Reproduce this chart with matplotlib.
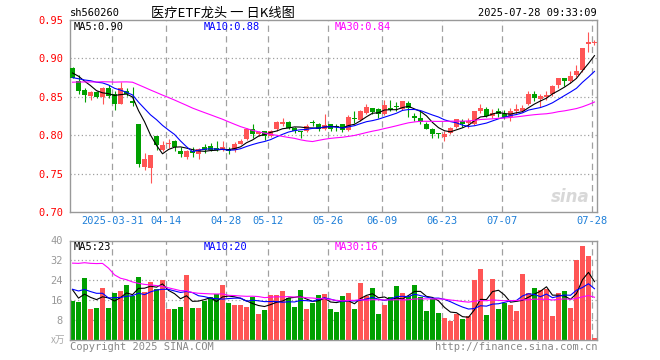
import matplotlib
matplotlib.use('Agg')
import matplotlib.pyplot as plt
import numpy as np
import pandas as pd

# ---------------- data ----------------
dates = ["2025-03-31", "04-14", "04-28", "05-12", "05-26", "06-09", "06-23", "07-07", "07-28"]
date_idx = [7, 16, 26, 33, 43, 52, 62, 72, 87]

open_ = [0.887, 0.870, 0.859, 0.851, 0.856, 0.850, 0.861, 0.854, 0.841, 0.858,
         0.845, 0.815, 0.759, 0.757, 0.799, 0.781, 0.788, 0.793, 0.780, 0.771,
         0.780, 0.775, 0.784, 0.786, 0.783, 0.781, 0.782, 0.781, 0.789, 0.795,
         0.808, 0.801, 0.805, 0.799, 0.808, 0.815, 0.817, 0.809, 0.805, 0.805,
         0.817, 0.815, 0.808, 0.814, 0.812, 0.814, 0.807, 0.822, 0.820, 0.829,
         0.835, 0.834, 0.827, 0.836, 0.838, 0.834, 0.842, 0.825, 0.822, 0.814,
         0.808, 0.802, 0.798, 0.803, 0.811, 0.819, 0.816, 0.814, 0.832, 0.834,
         0.825, 0.831, 0.828, 0.824, 0.831, 0.832, 0.840, 0.854, 0.847, 0.850,
         0.853, 0.865, 0.875, 0.871, 0.879, 0.885, 0.919, 0.920]
high = [0.889, 0.878, 0.861, 0.857, 0.857, 0.863, 0.866, 0.857, 0.869, 0.861,
        0.863, 0.815, 0.777, 0.774, 0.799, 0.793, 0.795, 0.794, 0.785, 0.781,
        0.784, 0.783, 0.789, 0.790, 0.792, 0.792, 0.785, 0.791, 0.795, 0.810,
        0.814, 0.805, 0.806, 0.807, 0.819, 0.822, 0.818, 0.811, 0.805, 0.814,
        0.820, 0.816, 0.827, 0.815, 0.814, 0.815, 0.826, 0.831, 0.833, 0.840,
        0.836, 0.835, 0.846, 0.846, 0.843, 0.844, 0.844, 0.829, 0.833, 0.817,
        0.810, 0.803, 0.805, 0.811, 0.821, 0.821, 0.822, 0.831, 0.840, 0.837,
        0.834, 0.835, 0.833, 0.835, 0.840, 0.839, 0.857, 0.857, 0.854, 0.857,
        0.866, 0.875, 0.875, 0.884, 0.892, 0.914, 0.935, 0.924]
low = [0.874, 0.854, 0.843, 0.846, 0.848, 0.840, 0.849, 0.833, 0.840, 0.851,
       0.838, 0.758, 0.755, 0.738, 0.781, 0.779, 0.783, 0.780, 0.771, 0.769,
       0.772, 0.769, 0.777, 0.779, 0.779, 0.779, 0.775, 0.778, 0.788, 0.794,
       0.797, 0.799, 0.794, 0.798, 0.806, 0.812, 0.808, 0.803, 0.797, 0.804,
       0.812, 0.806, 0.807, 0.805, 0.805, 0.804, 0.805, 0.816, 0.819, 0.828,
       0.828, 0.823, 0.826, 0.831, 0.832, 0.833, 0.824, 0.818, 0.814, 0.808,
       0.797, 0.797, 0.793, 0.802, 0.810, 0.811, 0.809, 0.813, 0.829, 0.824,
       0.823, 0.824, 0.821, 0.819, 0.828, 0.830, 0.839, 0.845, 0.837, 0.846,
       0.851, 0.862, 0.864, 0.868, 0.876, 0.882, 0.908, 0.917]
close = [0.875, 0.857, 0.852, 0.856, 0.850, 0.861, 0.851, 0.841, 0.861, 0.854,
         0.842, 0.762, 0.769, 0.774, 0.787, 0.787, 0.790, 0.784, 0.776, 0.779,
         0.777, 0.782, 0.781, 0.781, 0.781, 0.784, 0.779, 0.788, 0.792, 0.808,
         0.802, 0.804, 0.799, 0.805, 0.817, 0.817, 0.809, 0.806, 0.804, 0.812,
         0.816, 0.808, 0.813, 0.808, 0.811, 0.807, 0.824, 0.821, 0.831, 0.837,
         0.830, 0.827, 0.839, 0.833, 0.837, 0.844, 0.835, 0.822, 0.817, 0.808,
         0.801, 0.801, 0.802, 0.810, 0.821, 0.814, 0.818, 0.831, 0.835, 0.825,
         0.829, 0.828, 0.824, 0.831, 0.834, 0.836, 0.854, 0.848, 0.851, 0.852,
         0.864, 0.875, 0.871, 0.877, 0.883, 0.914, 0.922, 0.922]
# closes of the 29 sessions before the window (only feed the moving averages)
prior_close = [0.848, 0.851, 0.855, 0.853, 0.850, 0.856, 0.852, 0.854, 0.851, 0.855,
               0.862, 0.870, 0.878, 0.885, 0.888, 0.884, 0.882, 0.880, 0.882, 0.884,
               0.872, 0.868, 0.866, 0.869, 0.870, 0.878, 0.884, 0.885, 0.883]

volume = [15.5, 15.1, 25.1, 12.5, 13.0, 21.1, 13.0, 18.7, 19.5, 22.3,
          17.7, 25.5, 19.1, 23.5, 20.4, 24.2, 12.5, 12.5, 13.4, 26.3,
          13.0, 13.0, 15.5, 17.3, 18.5, 22.3, 14.7, 14.1, 14.1, 13.4,
          17.1, 10.6, 12.1, 17.9, 18.1, 19.5, 16.8, 13.3, 20.2, 12.6,
          14.7, 18.1, 18.5, 12.5, 11.4, 17.7, 18.7, 12.5, 23.1, 17.7,
          21.0, 10.6, 14.1, 17.3, 21.8, 18.7, 17.7, 22.2, 17.3, 11.8,
          16.5, 11.0, 9.0, 7.8, 10.6, 8.5, 9.8, 24.2, 28.6, 10.1,
          24.6, 12.5, 14.7, 14.1, 11.8, 26.7, 18.7, 21.0, 19.9, 20.7,
          9.8, 18.7, 19.5, 13.0, 32.3, 37.6, 33.6, 0.9]
prior_volume = [18, 17, 20, 16, 19, 70, 100, 60, 40, 45,
                42, 32, 30, 28, 34, 30, 29, 31, 27, 35,
                22, 19, 21, 20, 21, 32, 17, 19, 17.5]

price_ma_labels = ["MA5:0.90", "MA10:0.88", "MA30:0.84"]
vol_ma_labels = ["MA5:23", "MA10:20", "MA30:16"]
price_ticks = [0.70, 0.75, 0.80, 0.85, 0.90, 0.95]
vol_ticks = [8, 16, 24, 32, 40]

title = "医疗ETF龙头 一 日K线图"
code = "sh560260"
stamp = "2025-07-28 09:33:09"

# ---------------- styling ----------------
RED = '#FF5555'
GREEN = '#00A000'
MA_COLORS = ['#000000', '#0000FF', '#FF00FF']
GRID = '#A0A0A0'
FRAME = '#999999'
MONO = 'DejaVu Sans Mono'
CJK = ['Noto Sans CJK SC', 'DejaVu Sans']

W, H = 660, 360
fig = plt.figure(figsize=(6.6, 3.6), dpi=100)
fig.patch.set_facecolor('white')


def fx(px):
    return px / W


def fy(py):
    return 1 - py / H


L, R = 70, 597
ax = fig.add_axes([fx(L), fy(212), fx(R) - fx(L), fy(20) - fy(212)])
axv = fig.add_axes([fx(L), fy(340), fx(R) - fx(L), fy(240.5) - fy(340)])

n = len(close)
x = np.arange(n)
o = np.array(open_); c = np.array(close); hi = np.array(high); lo = np.array(low)
up = c >= o
cols = np.where(up, RED, GREEN)

XL = (-0.42, n - 1 + 0.42)

for a in (ax, axv):
    a.set_xlim(*XL)
    for s in a.spines.values():
        s.set_color(FRAME)
        s.set_linewidth(1.0)
    a.set_xticks([])
    a.tick_params(axis='y', length=0, pad=5)
    for j in date_idx:
        a.axvline(j - 0.42, color=GRID, lw=0.9, ls=(0, (5, 3.5)), zorder=0)

# price panel
ax.set_ylim(0.70, 0.95)
ax.set_yticks(price_ticks)
ax.set_yticklabels([f"{v:.2f}" for v in price_ticks], color='red', family=MONO, fontsize=7.5)
for v in price_ticks[1:-1]:
    ax.axhline(v, color=GRID, lw=0.9, ls=(0, (1, 2)), zorder=0)

ax.vlines(x, lo, hi, colors=cols, lw=0.8, zorder=2)
body_b = np.minimum(o, c)
body_h = np.maximum(np.abs(c - o), 0.0013)
ax.bar(x, body_h, bottom=body_b, width=0.84, color=cols, edgecolor='none', zorder=3)

full_c = pd.Series(prior_close + close)
for w, col in zip([5, 10, 30], MA_COLORS):
    ma = full_c.rolling(w).mean().to_numpy()[-n:]
    ax.plot(x, ma, color=col, lw=0.8, zorder=4)

for lab, xp, col in zip(price_ma_labels, [74, 204, 335], MA_COLORS):
    fig.text(fx(xp), fy(27), lab, color=col, family=MONO, fontsize=7.5, va='center', ha='left')

# watermark
ax.text(0.985, 0.03, "sina", transform=ax.transAxes, ha='right', va='bottom',
        fontsize=12, fontweight='bold', fontstyle='italic', color='#D8D8D8', zorder=1)

# volume panel
axv.set_ylim(0, 40)
axv.set_yticks(vol_ticks)
axv.set_yticklabels([str(v) for v in vol_ticks], color='#999999', family=MONO, fontsize=7.5)
for v in vol_ticks[:-1]:
    axv.axhline(v, color=GRID, lw=0.9, ls=(0, (1, 2)), zorder=0)
axv.bar(x, volume, width=0.84, color=cols, edgecolor='none', zorder=2)
full_v = pd.Series(prior_volume + volume)
for w, col in zip([5, 10, 30], MA_COLORS):
    ma = full_v.rolling(w).mean().to_numpy()[-n:]
    axv.plot(x, ma, color=col, lw=0.8, zorder=4)
for lab, xp, col in zip(vol_ma_labels, [74, 204, 335], MA_COLORS):
    fig.text(fx(xp), fy(246.5), lab, color=col, family=MONO, fontsize=7.5, va='center', ha='left')
fig.text(fx(65), fy(340), "x万", color='#AAAAAA', family=CJK, fontsize=7, ha='right', va='center')

# date labels
for lab, j in zip(dates, date_idx):
    px = 70 + 6 * j
    fig.text(fx(px), fy(221), lab, color='#1E7FD8', family=MONO, fontsize=7.5, ha='center', va='center')

# header
fig.text(fx(70), fy(13), code, family=MONO, fontsize=7.5, ha='left', va='center', color='black')
fig.text(fx(223), fy(13), title, family=CJK, fontsize=9.5, ha='center', va='center', color='black')
fig.text(fx(597), fy(13), stamp, family=MONO, fontsize=7.5, ha='right', va='center', color='black')

# footer
fig.text(fx(70), fy(346.5), "Copyright 2025 SINA.COM", family=MONO, fontsize=7.5, ha='left', va='center', color='#888888')
fig.text(fx(597), fy(346.5), "http://finance.sina.com.cn", family=MONO, fontsize=7.5, ha='right', va='center', color='#888888')

fig.savefig('out.png', dpi=100, facecolor='white')
